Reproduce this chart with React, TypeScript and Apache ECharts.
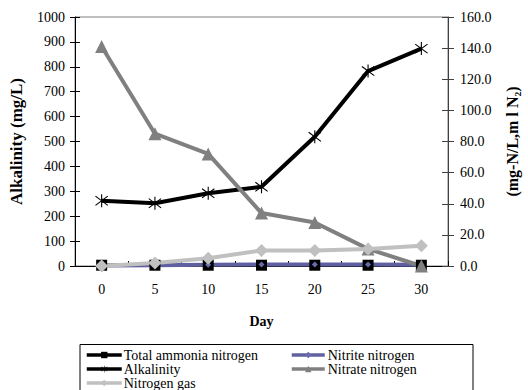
import React, { useEffect, useRef } from "react";
import * as echarts from "echarts";

const days = ["0", "5", "10", "15", "20", "25", "30"];
const totalAmmonia = [0.5, 0.5, 0.5, 0.5, 0.5, 0.5, 0.5];
const nitrite = [0.3, 0.5, 0.8, 1.0, 1.0, 1.0, 0.8];
const alkalinity = [262, 252, 292, 318, 519, 783, 873];
const nitrate = [141, 85, 72, 34, 28, 11, 0];
const nitrogenGas = [0, 2, 5, 10, 10, 11, 13];

const FONT = "serif";

const asterisk =
  "path://M9.2,0 L10.8,0 L10.8,20 L9.2,20 Z M1.49,2.37 L19.49,16.37 L18.51,17.63 L0.51,3.63 Z M0.51,16.37 L18.51,2.37 L19.49,3.63 L1.49,17.63 Z";

export default function App() {
  const ref = useRef<HTMLDivElement>(null);
  useEffect(() => {
    if (!ref.current) return;
    const chart = echarts.init(ref.current, undefined, { renderer: "svg" });
    const axisLabel = { fontFamily: FONT, fontSize: 14, color: "#000" };
    chart.setOption({
      animation: false,
      backgroundColor: "#fff",
      textStyle: { fontFamily: FONT },
      grid: {
        left: 73,
        right: 71,
        top: 17,
        bottom: 124,
        show: true,
        borderColor: "#808080",
        borderWidth: 1,
      },
      xAxis: {
        type: "category",
        data: days,
        boundaryGap: true,
        axisLine: { lineStyle: { color: "#000", width: 1 } },
        axisTick: { show: true, inside: true, length: 5, lineStyle: { color: "#000" } },
        axisLabel: { ...axisLabel, margin: 16 },
        name: "Day",
        nameLocation: "middle",
        nameGap: 48,
        nameTextStyle: { fontFamily: FONT, fontSize: 14, fontWeight: "bold", color: "#000" },
        splitLine: { show: false },
      },
      yAxis: [
        {
          type: "value",
          position: "left",
          min: 0,
          max: 1000,
          interval: 100,
          axisLine: { show: true, lineStyle: { color: "#000" } },
          axisTick: { show: true, length: 5, lineStyle: { color: "#000" } },
          axisLabel: { ...axisLabel, margin: 10, formatter: (v: number) => String(v) },
          splitLine: { show: false },
          name: "Alkalinity (mg/L)",
          nameLocation: "middle",
          nameRotate: 90,
          nameGap: 50,
          nameTextStyle: { fontFamily: FONT, fontSize: 17, fontWeight: "bold", color: "#000" },
        },
        {
          type: "value",
          position: "right",
          min: 0,
          max: 160,
          interval: 20,
          axisLine: { show: true, lineStyle: { color: "#404040" } },
          axisTick: { show: true, length: 6, lineStyle: { color: "#404040" } },
          axisLabel: { ...axisLabel, margin: 12, formatter: (v: number) => v.toFixed(1) },
          splitLine: { show: false },
          name: "(mg-N/L,m l N₂)",
          nameLocation: "middle",
          nameRotate: 90,
          nameGap: 56,
          nameTextStyle: { fontFamily: FONT, fontSize: 16, fontWeight: "bold", color: "#000" },
        },
        {
          type: "value",
          position: "left",
          min: 0,
          max: 1000,
          interval: 100,
          axisLine: { show: false },
          axisTick: { show: true, inside: true, length: 5, lineStyle: { color: "#000" } },
          axisLabel: { show: false },
          splitLine: { show: false },
        },
        {
          type: "value",
          position: "right",
          min: 0,
          max: 160,
          interval: 20,
          axisLine: { show: false },
          axisTick: { show: true, inside: true, length: 6, lineStyle: { color: "#404040" } },
          axisLabel: { show: false },
          splitLine: { show: false },
        },
      ],
      legend: [
        {
          orient: "vertical",
          left: 85,
          top: 348,
          itemWidth: 35,
          itemHeight: 8,
          itemGap: 0,
          padding: 0,
          lineStyle: { width: 3.5 },
          textStyle: { fontFamily: FONT, fontSize: 14, color: "#000", lineHeight: 12, padding: [0, 0, 0, -3] },
          data: ["Total ammonia nitrogen", "Alkalinity", "Nitrogen gas"],
        },
        {
          orient: "vertical",
          left: 290,
          top: 348,
          itemWidth: 33,
          itemHeight: 8,
          itemGap: 0,
          padding: 0,
          lineStyle: { width: 3.5 },
          textStyle: { fontFamily: FONT, fontSize: 14, color: "#000", lineHeight: 12, padding: [0, 0, 0, -2] },
          data: ["Nitrite nitrogen", "Nitrate nitrogen"],
        },
      ],
      graphic: [
        {
          type: "rect",
          shape: { x: 80, y: 344.5, width: 393, height: 60 },
          style: { fill: "none", stroke: "#000", lineWidth: 1 },
          silent: true,
        },
      ],
      series: [
        {
          name: "Total ammonia nitrogen",
          type: "line",
          yAxisIndex: 1,
          data: totalAmmonia,
          symbol: "rect",
          symbolSize: 11,
          itemStyle: { color: "#000" },
          lineStyle: { color: "#000", width: 3 },
        },
        {
          name: "Nitrite nitrogen",
          type: "line",
          yAxisIndex: 1,
          data: nitrite,
          symbol: "diamond",
          symbolSize: 6,
          itemStyle: { color: "#6a6aae" },
          lineStyle: { color: "#6060a0", width: 4 },
        },
        {
          name: "Alkalinity",
          type: "line",
          yAxisIndex: 0,
          data: alkalinity,
          symbol: asterisk,
          symbolSize: 13,
          itemStyle: { color: "#000" },
          lineStyle: { color: "#000", width: 4 },
        },
        {
          name: "Nitrate nitrogen",
          type: "line",
          yAxisIndex: 1,
          data: nitrate,
          symbol: "triangle",
          symbolSize: 13,
          itemStyle: { color: "#808080" },
          lineStyle: { color: "#808080", width: 4 },
        },
        {
          name: "Nitrogen gas",
          type: "line",
          yAxisIndex: 1,
          data: nitrogenGas,
          symbol: "diamond",
          symbolSize: 13,
          itemStyle: { color: "#c0c0c0" },
          lineStyle: { color: "#c0c0c0", width: 4 },
        },
      ],
    });
    return () => chart.dispose();
  }, []);
  return <div ref={ref} style={{ width: 528, height: 390, position: "absolute", left: 0, top: 0 }} />;
}
